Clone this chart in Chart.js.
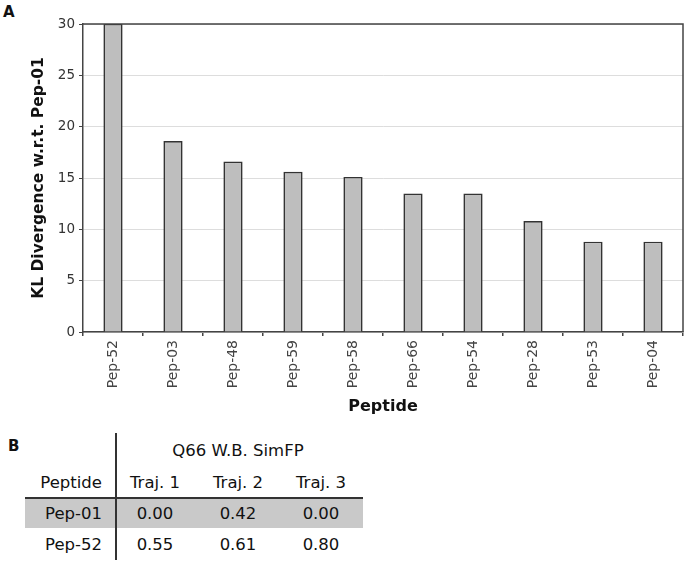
<!DOCTYPE html>
<html>
<head>
<meta charset="utf-8">
<script src="https://cdn.jsdelivr.net/npm/chart.js@4"></script>
<style>
  body { margin: 0; background: #fff; font-family: "DejaVu Sans", sans-serif; }
  #wrap { position: relative; width: 685px; height: 563px; overflow: hidden; }
  #chart { position: absolute; left: 0; top: 0; }
  .panel { position: absolute; font-weight: bold; font-size: 15px; line-height: 1; color: #111; }
  .cell { position: absolute; font-size: 16.5px; line-height: 1; color: #111; white-space: nowrap; }
  .line { position: absolute; background: #333; }
</style>
</head>
<body>
<div id="wrap">
  <div class="panel" style="left:3px;top:5px">A</div>
  <canvas id="chart" width="685" height="420"></canvas>
  <div class="panel" style="left:8px;top:439px">B</div>
  <div id="tbl"></div>
</div>
<script>
// panel A data
const peptides = ["Pep-52", "Pep-03", "Pep-48", "Pep-59", "Pep-58", "Pep-66", "Pep-54", "Pep-28", "Pep-53", "Pep-04"];
const klDivergence = [30, 18.6, 16.6, 15.6, 15.1, 13.5, 13.5, 10.8, 8.8, 8.8];

// panel B table
const groupTitle = "Q66 W.B. SimFP";
const trajLabels = ["Traj. 1", "Traj. 2", "Traj. 3"];
const rowLabels = ["Pep-01", "Pep-52"];
const pep01Values = ["0.00", "0.42", "0.00"];
const pep52Values = ["0.55", "0.61", "0.80"];

// box on top / right of the plot area
const frame = {
  id: "frame",
  afterDatasetsDraw(chart) {
    const { ctx, chartArea: a } = chart;
    ctx.save();
    ctx.strokeStyle = "#444";
    ctx.lineWidth = 1.5;
    ctx.beginPath();
    ctx.moveTo(a.left, a.top);
    ctx.lineTo(a.right, a.top);
    ctx.lineTo(a.right, a.bottom);
    ctx.stroke();
    ctx.restore();
  }
};

new Chart(document.getElementById("chart"), {
  type: "bar",
  data: {
    labels: peptides,
    datasets: [{
      data: klDivergence,
      backgroundColor: "#bebebe",
      borderColor: "#333",
      borderWidth: 1.6,
      barPercentage: 0.32,
      categoryPercentage: 1
    }]
  },
  options: {
    responsive: false,
    animation: false,
    layout: { padding: { top: 24, right: 2, left: 0, bottom: 0 } },
    plugins: { legend: { display: false }, tooltip: { enabled: false } },
    scales: {
      x: {
        grid: { offset: true, drawOnChartArea: false, tickLength: 4, color: "#444", lineWidth: 1.5 },
        border: { color: "#444", width: 1.5 },
        ticks: {
          autoSkip: false, minRotation: 90, maxRotation: 90, padding: 4,
          color: "#444", font: { family: "DejaVu Sans", size: 14 }
        },
        title: {
          display: true, text: "Peptide", color: "#111",
          font: { family: "DejaVu Sans", size: 16, weight: "bold" },
          padding: { top: 0, bottom: 4 }
        },
        afterFit(s) { s.height = 88; }
      },
      y: {
        min: 0,
        max: 30,
        ticks: { stepSize: 5, padding: 4, color: "#333", font: { family: "DejaVu Sans", size: 13.5 } },
        grid: { color: "#ddd", tickColor: "#444", tickLength: 4 },
        border: { color: "#444", width: 1.5 },
        title: {
          display: true, text: "KL Divergence w.r.t. Pep-01", color: "#111",
          font: { family: "DejaVu Sans", size: 15.5, weight: "bold" },
          padding: { top: 30, bottom: 0 }
        },
        afterFit(s) { s.width = 83; }
      }
    }
  },
  plugins: [frame]
});

// build table B
const tbl = document.getElementById("tbl");
function cell(text, x, y, align) {
  const d = document.createElement("div");
  d.className = "cell";
  d.textContent = text;
  d.style.left = x + "px";
  d.style.top = y + "px";
  d.style.transform = align === "right" ? "translate(-100%,-50%)" : "translate(-50%,-50%)";
  tbl.appendChild(d);
}
function box(x, y, w, h, color) {
  const d = document.createElement("div");
  d.className = "line";
  Object.assign(d.style, { left: x + "px", top: y + "px", width: w + "px", height: h + "px" });
  if (color) d.style.background = color;
  tbl.appendChild(d);
}
const colX = [155, 238, 321];
box(25, 498, 338, 30, "#c9c9c9");
box(25, 497, 338, 1.5);
box(115, 433, 1.5, 127);
cell(groupTitle, 238, 451);
cell("Peptide", 102, 483, "right");
trajLabels.forEach((t, i) => cell(t, colX[i], 483));
const rows = [pep01Values, pep52Values];
const rowY = [514, 545];
rows.forEach((vals, r) => {
  cell(rowLabels[r], 102, rowY[r], "right");
  vals.forEach((v, i) => cell(v, colX[i], rowY[r]));
});
</script>
</body>
</html>
